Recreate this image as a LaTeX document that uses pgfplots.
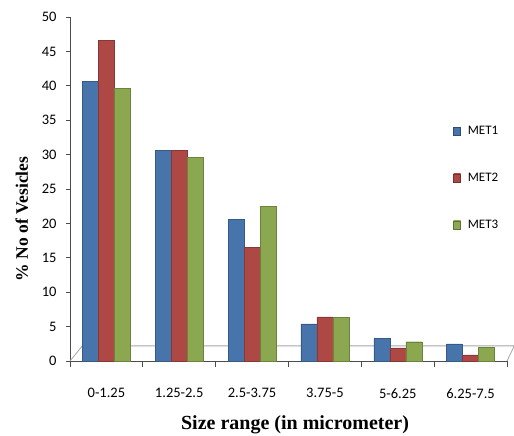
\documentclass[border=0pt]{standalone}
\usepackage{pgfplots}
\pgfplotsset{compat=1.18}
\usepackage{fontspec}
\setmainfont{Carlito}
\newfontfamily\serifbold{Liberation Serif}
\definecolor{cA}{HTML}{4F81BD}
\definecolor{cB}{HTML}{C0504D}
\definecolor{cC}{HTML}{9BBB59}
\pgfplotstableread{
x met1 met2 met3
0 40.6 46.6 39.6
1 30.6 30.6 29.6
2 20.6 16.5 22.5
3 5.4 6.4 6.3
4 3.3 1.9 2.8
5 2.5 0.9 2.0
}\datatab
\begin{document}
\begin{tikzpicture}
\useasboundingbox (0,0) rectangle (514pt,436pt);
\begin{axis}[
  at={(70pt,75pt)}, anchor=south west,
  scale only axis, width=437pt, height=344pt,
  xmin=-0.5, xmax=5.5, ymin=0, ymax=50,
  axis x line*=bottom, axis y line*=left,
  axis line style={black!70, line width=0.8pt},
  ybar=0pt, bar width=16pt,
  xtick={0,...,5},
  xticklabels={0-1.25,1.25-2.5,2.5-3.75,3.75-5,5-6.25,6.25-7.5},
  major x tick style={draw=none},
  minor xtick={-0.5,0.5,...,5.5},
  minor x tick style={black!70, line width=0.8pt},
  minor tick length=6pt,
  ytick={0,5,...,50},
  major tick length=4pt,
  tick align=outside,
  major y tick style={black!70, line width=0.8pt},
  /pgf/number format/assume math mode=true,
  tick label style={font=\fontsize{14.5}{16}\selectfont},
  xticklabel style={yshift=-20pt},
  yticklabel style={xshift=-6pt},
  ylabel={\serifbold\bfseries\fontsize{17.5}{19}\selectfont \% No of Vesicles},
  xlabel={\serifbold\bfseries\fontsize{20}{22}\selectfont Size range (in micrometer)},
  ylabel style={at={(axis description cs:-0.11,0.413)}, anchor=center},
  xlabel style={at={(axis description cs:0.515,-0.186)}, anchor=center},
  clip=false,
  legend style={at={(axis description cs:0.87,0.695)}, anchor=north west,
    draw=none, fill=none, row sep=33pt,
    font=\fontsize{13}{15}\selectfont},
  legend cell align=left,
]
\draw[gray!70, line width=0.8pt] (axis cs:-0.5,0) -- (axis cs:-0.33,2.2) -- (axis cs:5.6,2.2) -- (axis cs:5.5,0);
\addplot[draw=cA!70!black, left color=cA!90!black, middle color=cA!75!white, right color=cA!90!black,
  area legend, legend image code/.code={\fill[cA, draw=cA!60!black] (0pt,-4pt) rectangle (7pt,4pt); \path (12pt,0pt);}]
  table[x=x,y=met1]{\datatab};
\addplot[draw=cB!70!black, left color=cB!90!black, middle color=cB!75!white, right color=cB!90!black,
  area legend, legend image code/.code={\fill[cB, draw=cB!60!black] (0pt,-4pt) rectangle (7pt,4pt); \path (12pt,0pt);}]
  table[x=x,y=met2]{\datatab};
\addplot[draw=cC!70!black, left color=cC!90!black, middle color=cC!75!white, right color=cC!90!black,
  area legend, legend image code/.code={\fill[cC, draw=cC!60!black] (0pt,-4pt) rectangle (7pt,4pt); \path (12pt,0pt);}]
  table[x=x,y=met3]{\datatab};
\legend{MET1,MET2,MET3}
\end{axis}
\end{tikzpicture}
\end{document}
